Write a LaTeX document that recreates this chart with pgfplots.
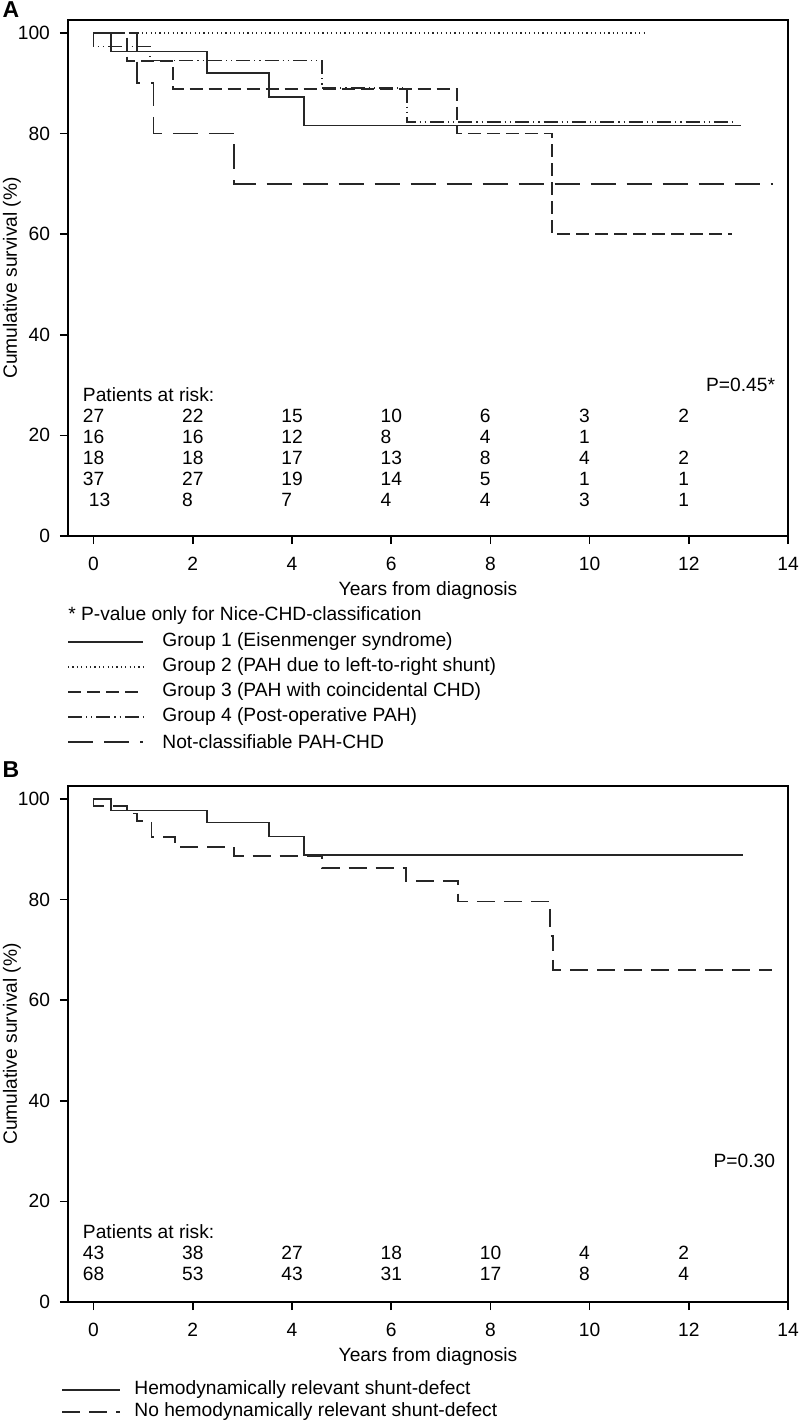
\documentclass[border=0pt]{standalone}
\usepackage{pgfplots}
\pgfplotsset{compat=1.18}
\usepackage{fontspec}
\setmainfont{Liberation Sans}
\newcommand{\fs}{\fontsize{9.6}{11.5}\selectfont}
\newcommand{\rk}[3]{\node[anchor=west, font=\fs, inner sep=0pt] at (axis cs:#1,#2) {#3};}
\newcommand{\rkrow}[8]{\rk{-0.22}{#1}{#2}\rk{1.78}{#1}{#3}\rk{3.78}{#1}{#4}\rk{5.78}{#1}{#5}\rk{7.78}{#1}{#6}\rk{9.78}{#1}{#7}\rk{11.78}{#1}{#8}}

\tikzset{
 kmline/.style={line width=0.9pt, black!85},
 g1/.style={kmline},
 g2/.style={kmline, line width=0.8pt, dash pattern=on 0.6pt off 1.6pt},
 g3/.style={kmline, dash pattern=on 6.5pt off 3pt},
 g4/.style={kmline, dash pattern=on 7pt off 2pt on 0.6pt off 2pt on 0.6pt off 2pt},
 g5/.style={kmline, dash pattern=on 12.5pt off 5.5pt},
 h1/.style={kmline},
 h2/.style={kmline, dash pattern=on 9pt off 4.5pt},
}

\pgfplotsset{kmaxis/.style={
  scale only axis, width=360pt, height=258pt,
  xmin=-0.514, xmax=14, ymin=0, ymax=102.55,
  xtick={0,2,...,14}, ytick={0,20,...,100},
  tick align=outside, tick pos=left, major tick length=4pt,
  axis line style={line width=0.85pt},
  every tick/.style={black, line width=0.8pt},
  ticklabel style={font=\fs},
  xticklabel style={yshift=-3pt},
  yticklabel style={xshift=-1.5pt},
  label style={font=\fs},
  /pgf/number format/assume math mode=true,
  xlabel={Years from diagnosis},
  ylabel={Cumulative survival (\%)},
  xlabel style={at={(axis description cs:0.5,-0.1066)}, anchor=center},
  ylabel style={at={(axis description cs:-0.078,0.5)}, anchor=center},
  clip=false,
  every axis plot/.append style={const plot},
}}

\begin{document}
\begin{tikzpicture}
\path[use as bounding box] (0pt,0pt) rectangle (400pt,-712pt);

% ---------------- Panel A ----------------
\begin{axis}[kmaxis, at={(34pt,-10pt)}, anchor=north west]
\addplot[g1] coordinates {(0,100) (0.35,96.3) (2.28,92.0) (3.53,87.3) (4.25,81.6) (13.05,81.6)};
\addplot[g2] coordinates {(0,100) (11.15,100)};
\addplot[g3] coordinates {(0,100) (0.67,94.4) (1.61,88.9) (7.32,80.0) (9.24,60.0) (12.87,60.0)};
\addplot[g4] coordinates {(0,100) (0,97.3) (1.14,94.5) (4.6,89.0) (6.32,82.2) (12.93,82.2)};
\addplot[g5] coordinates {(0,100) (0.87,90) (1.21,80) (2.83,70) (13.7,70)};
\node[anchor=east, font=\fs] at (axis cs:13.88,30) {P=0.45*};
\node[anchor=west, font=\fs, inner sep=0pt] at (axis cs:-0.22,28) {Patients at risk:};
\rkrow{23.9}{27}{22}{15}{10}{6}{3}{2}
\rkrow{19.7}{16}{16}{12}{8}{4}{1}{}
\rkrow{15.5}{18}{18}{17}{13}{8}{4}{2}
\rkrow{11.3}{37}{27}{19}{14}{5}{1}{1}
\rkrow{7.1}{\hspace{3pt}13}{8}{7}{4}{4}{3}{1}
\end{axis}
\node[font=\bfseries\fontsize{11.5}{13}\selectfont] at (5.5pt,-5pt) {A};

% legend A
\node[anchor=west, font=\fs, inner sep=0pt] at (34pt,-308pt) {* P-value only for Nice-CHD-classification};
\draw[g1] (34pt,-321pt) -- (71.5pt,-321pt);
\node[anchor=west, font=\fs, inner sep=0pt] at (81pt,-321pt) {Group 1 (Eisenmenger syndrome)};
\draw[g2] (34pt,-333.5pt) -- (71.5pt,-333.5pt);
\node[anchor=west, font=\fs, inner sep=0pt] at (81pt,-333.5pt) {Group 2 (PAH due to left-to-right shunt)};
\draw[g3] (34pt,-346pt) -- (71.5pt,-346pt);
\node[anchor=west, font=\fs, inner sep=0pt] at (81pt,-346pt) {Group 3 (PAH with coincidental CHD)};
\draw[g4] (34pt,-358.5pt) -- (71.5pt,-358.5pt);
\node[anchor=west, font=\fs, inner sep=0pt] at (81pt,-358.5pt) {Group 4 (Post-operative PAH)};
\draw[g5] (34pt,-371pt) -- (71.5pt,-371pt);
\node[anchor=west, font=\fs, inner sep=0pt] at (81pt,-371pt) {Not-classifiable PAH-CHD};

% ---------------- Panel B ----------------
\begin{axis}[kmaxis, at={(34pt,-393pt)}, anchor=north west]
\addplot[h1] coordinates {(0,100) (0.35,97.7) (2.28,95.3) (3.53,92.5) (4.25,88.9) (13.1,88.9)};
\addplot[h2] coordinates {(0,100) (0,98.5) (0.67,97.1) (0.87,95.6) (1.17,92.4) (1.65,90.4) (2.83,88.7) (4.6,86.3) (6.3,83.6) (7.34,79.6) (9.21,72.8) (9.27,66.0) (13.68,66.0)};
\node[anchor=east, font=\fs] at (axis cs:13.88,28) {P=0.30};
\node[anchor=west, font=\fs, inner sep=0pt] at (axis cs:-0.22,14) {Patients at risk:};
\rkrow{9.8}{43}{38}{27}{18}{10}{4}{2}
\rkrow{5.6}{68}{53}{43}{31}{17}{8}{4}
\end{axis}
\node[font=\bfseries\fontsize{11.5}{13}\selectfont] at (5.5pt,-385pt) {B};

% legend B
\draw[h1] (31pt,-695pt) -- (60pt,-695pt);
\node[anchor=west, font=\fs, inner sep=0pt] at (67pt,-695pt) {Hemodynamically relevant shunt-defect};
\draw[h2] (31pt,-706pt) -- (60pt,-706pt);
\node[anchor=west, font=\fs, inner sep=0pt] at (67pt,-706pt) {No hemodynamically relevant shunt-defect};
\end{tikzpicture}
\end{document}
